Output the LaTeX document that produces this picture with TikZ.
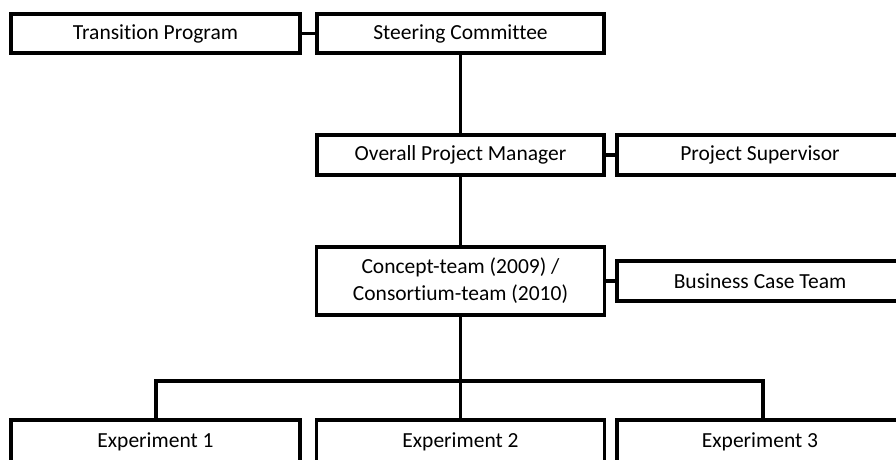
\documentclass[tikz,border=0pt]{standalone}
\usepackage{fontspec}
\setmainfont{Carlito}[Ligatures={NoCommon}]
\begin{document}
\begin{tikzpicture}[x=1pt,y=-1pt,
  box/.style={draw=black,line width=3.4pt,fill=white,minimum width=287pt,minimum height=39pt,inner sep=0pt,align=center,font=\fontsize{21.5}{27}\selectfont},
  conn/.style={draw=black,line width=3.4pt}]
\useasboundingbox (0,0) rectangle (896,459);
\clip (0,0) rectangle (896,459);
\fill[white] (0,0) rectangle (896,459);
\node[box,minimum width=289pt] (tp) at (155.5,33.5) {Transition Program};
\node[box] (sc) at (460.5,33.5) {Steering Committee};
\node[box,minimum height=40pt] (opm) at (460.5,155) {Overall Project Manager};
\node[box,minimum width=286pt,minimum height=40pt] (ps) at (760,155) {Project Supervisor};
\node[box,minimum width=288pt,minimum height=68pt] (ct) at (460.5,281) {Concept-team (2009) /\\Consortium-team (2010)};
\node[box,minimum width=286pt,minimum height=40pt] (bct) at (760,281) {Business Case Team};
\node[box,minimum width=289pt,minimum height=44pt] (e1) at (155.5,442) {Experiment 1};
\node[box,minimum width=288pt,minimum height=44pt] (e2) at (460.5,442) {Experiment 2};
\node[box,minimum width=286pt,minimum height=44pt] (e3) at (760,442) {Experiment 3};
\coordinate (bus) at (460.5,381);
\draw[conn] (tp.east) -- (sc.west);
\draw[conn] (sc.south) -- (opm.north);
\draw[conn] (opm.east) -- (ps.west);
\draw[conn] (opm.south) -- (ct.north);
\draw[conn] (ct.east) -- (bct.west);
\draw[conn] (ct.south) -- (e2.north);
\draw[conn] ([xshift=0.5pt]e1.north) |- (bus) -| ([xshift=3pt]e3.north);
\end{tikzpicture}
\end{document}
